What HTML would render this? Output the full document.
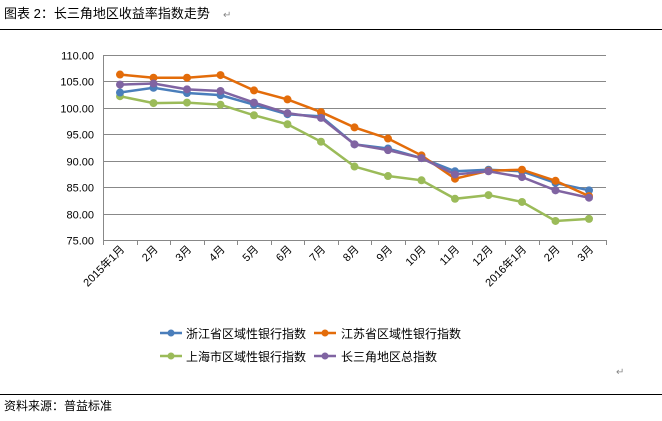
<!DOCTYPE html>
<html><head><meta charset="utf-8"><style>
body{margin:0;background:#fff;width:662px;height:416px;overflow:hidden;font-family:"Liberation Sans","Noto Sans CJK SC",sans-serif;}
</style></head><body>
<svg width="662" height="416" xmlns="http://www.w3.org/2000/svg" font-family="Liberation Sans, Noto Sans CJK SC, sans-serif">
<text x="4" y="18" font-size="13" fill="#000">图表 2：长三角地区收益率指数走势</text>
<text x="223" y="18" font-size="10" fill="#888">↵</text>
<line x1="0" y1="29.5" x2="662" y2="29.5" stroke="#000" stroke-width="1"/>
<g id="grid" stroke="#888" stroke-width="1"></g>
<g id="ylab" font-size="11" fill="#000" text-anchor="end"></g>
<g id="xlab" font-size="11" fill="#000" text-anchor="end"></g>
<g id="series"></g>
<g font-size="12" fill="#000">
<line x1="160" y1="333" x2="182" y2="333" stroke="#4a7ebb" stroke-width="2.5"/><circle cx="171" cy="333" r="3.5" fill="#4a7ebb"/>
<text x="186" y="338">浙江省区域性银行指数</text>
<line x1="314" y1="333" x2="336" y2="333" stroke="#e36c0a" stroke-width="2.5"/><circle cx="325" cy="333" r="3.5" fill="#e36c0a"/>
<text x="341" y="338">江苏省区域性银行指数</text>
<line x1="160" y1="356" x2="182" y2="356" stroke="#9bbb59" stroke-width="2.5"/><circle cx="171" cy="356" r="3.5" fill="#9bbb59"/>
<text x="186" y="361">上海市区域性银行指数</text>
<line x1="314" y1="356" x2="336" y2="356" stroke="#8064a2" stroke-width="2.5"/><circle cx="325" cy="356" r="3.5" fill="#8064a2"/>
<text x="341" y="361">长三角地区总指数</text>
</g>
<text x="616" y="375" font-size="10" fill="#888">↵</text>
<line x1="0" y1="394.5" x2="662" y2="394.5" stroke="#000" stroke-width="1"/>
<text x="4" y="410" font-size="12" fill="#000">资料来源：普益标准</text>
</svg>
<script>
var NS="http://www.w3.org/2000/svg";
function el(t,a,p){var e=document.createElementNS(NS,t);for(var k in a)e.setAttribute(k,a[k]);p.appendChild(e);return e;}
function Y(v){return 55+(110-v)*5.286;}
var g=document.getElementById('grid'),yl=document.getElementById('ylab'),xl=document.getElementById('xlab');
for(var v=75;v<=110;v+=5){var y=Math.round(Y(v))+0.5;if(v>75)el('line',{x1:103,y1:y,x2:606,y2:y},g);var t=el('text',{x:94,y:y+4},yl);t.textContent=v.toFixed(2);}
el('line',{x1:103,y1:240.5,x2:606,y2:240.5},g);
el('line',{x1:103.5,y1:55,x2:103.5,y2:245},g);
var labs=["2015年1月","2月","3月","4月","5月","6月","7月","8月","9月","10月","11月","12月","2016年1月","2月","3月"];
for(var i=0;i<=15;i++){var x=Math.round(103+i*33.5)+0.5;el('line',{x1:x,y1:240,x2:x,y2:245},g);}
for(var i=0;i<15;i++){var cx=120+i*33.5;var t=el('text',{x:cx+5,y:250,transform:'rotate(-45 '+(cx+5)+' 250)'},xl);t.textContent=labs[i];}
var data=[
["#9bbb59",[102.2,100.9,101,100.6,98.6,96.9,93.6,88.9,87.1,86.3,82.8,83.5,82.2,78.6,79]],
["#4a7ebb",[102.9,103.8,102.8,102.4,100.6,98.8,98.4,93.1,92.3,90.5,88,88.3,88,85.8,84.4]],
["#e36c0a",[106.3,105.7,105.7,106.2,103.3,101.6,99.2,96.3,94.2,91,86.6,88.1,88.3,86.2,83.3]],
["#8064a2",[104.4,104.6,103.5,103.2,101,99,98.1,93.1,92,90.5,87.4,88,86.9,84.4,83]]];
var s=document.getElementById('series');
data.forEach(function(d){var pts=d[1].map(function(v,i){return (120+i*33.5)+','+Y(v);}).join(' ');
el('polyline',{points:pts,fill:'none',stroke:d[0],'stroke-width':2.5},s);
d[1].forEach(function(v,i){el('circle',{cx:120+i*33.5,cy:Y(v),r:4,fill:d[0]},s);});});
</script>
</body></html>
